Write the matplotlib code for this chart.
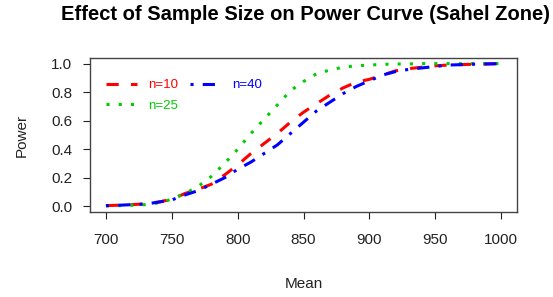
import matplotlib.pyplot as plt

plt.rcParams['font.family'] = ['Liberation Sans', 'DejaVu Sans']

# power curve values
mean = [700, 710, 720, 730, 740, 750, 760, 770, 780, 790, 800,
        810, 820, 830, 840, 850, 860, 870, 880, 890, 900,
        910, 920, 930, 940, 950, 960, 970, 980, 990, 1000]
power_n10 = [0.005, 0.008, 0.012, 0.018, 0.03, 0.05, 0.09, 0.12, 0.155, 0.22, 0.29,
             0.37, 0.44, 0.51, 0.59, 0.66, 0.72, 0.78, 0.83, 0.87, 0.89,
             0.92, 0.95, 0.965, 0.975, 0.985, 0.99, 0.993, 0.996, 0.998, 1.0]
power_n25 = [0.003, 0.005, 0.008, 0.012, 0.025, 0.05, 0.09, 0.14, 0.21, 0.30, 0.40,
             0.51, 0.61, 0.71, 0.81, 0.875, 0.93, 0.955, 0.975, 0.985, 0.99,
             0.995, 0.997, 0.998, 1.0, 1.0, 1.0, 1.0, 1.0, 1.0, 1.0]
power_n40 = [0.005, 0.008, 0.012, 0.016, 0.03, 0.045, 0.08, 0.11, 0.155, 0.20, 0.26,
             0.31, 0.37, 0.43, 0.51, 0.59, 0.67, 0.73, 0.79, 0.84, 0.88,
             0.92, 0.945, 0.96, 0.97, 0.98, 0.99, 0.993, 0.996, 0.998, 1.0]

fig = plt.figure(figsize=(5.53, 2.97), dpi=100)
ax = fig.add_axes([0.163, 0.286, 0.772, 0.519])

lw = 2.2
ax.plot(mean, power_n10, color='#ff0000', lw=lw, dashes=(4, 4), label='n=10')
ax.plot(mean, power_n25, color='#00cd00', lw=lw, dashes=(1, 3), label='n=25')
ax.plot(mean, power_n40, color='#0000ff', lw=lw, dashes=(1, 3, 4, 3), label='n=40')

ax.set_xlim(688, 1012)
ax.set_ylim(-0.04, 1.04)
ax.set_xticks(range(700, 1001, 50))
ax.set_yticks([0.0, 0.2, 0.4, 0.6, 0.8, 1.0])
ax.set_yticklabels(['0.0', '0.2', '0.4', '0.6', '0.8', '1.0'])
ax.tick_params(labelsize=11, length=5, width=0.8, colors='#222222')
ax.tick_params(axis='x', pad=10)
ax.tick_params(axis='y', pad=8)
for s in ax.spines.values():
    s.set_color('#444444')
    s.set_linewidth(1.0)

ax.set_xlabel('Mean', fontsize=11, labelpad=22, color='#222222')
ax.set_ylabel('Power', fontsize=11, labelpad=16, color='#222222')
fig.text(0.553, 0.95, 'Effect of Sample Size on Power Curve (Sahel Zone)',
         fontsize=14.5, fontweight='bold', ha='center', va='center')

leg = ax.legend(ncol=2, frameon=False, loc='upper left',
                bbox_to_anchor=(0.01, 0.94), labelcolor='linecolor',
                fontsize=9.5, handlelength=2.3, columnspacing=0.9,
                handletextpad=0.9, labelspacing=0.65)

fig.savefig('out.png', dpi=100)
